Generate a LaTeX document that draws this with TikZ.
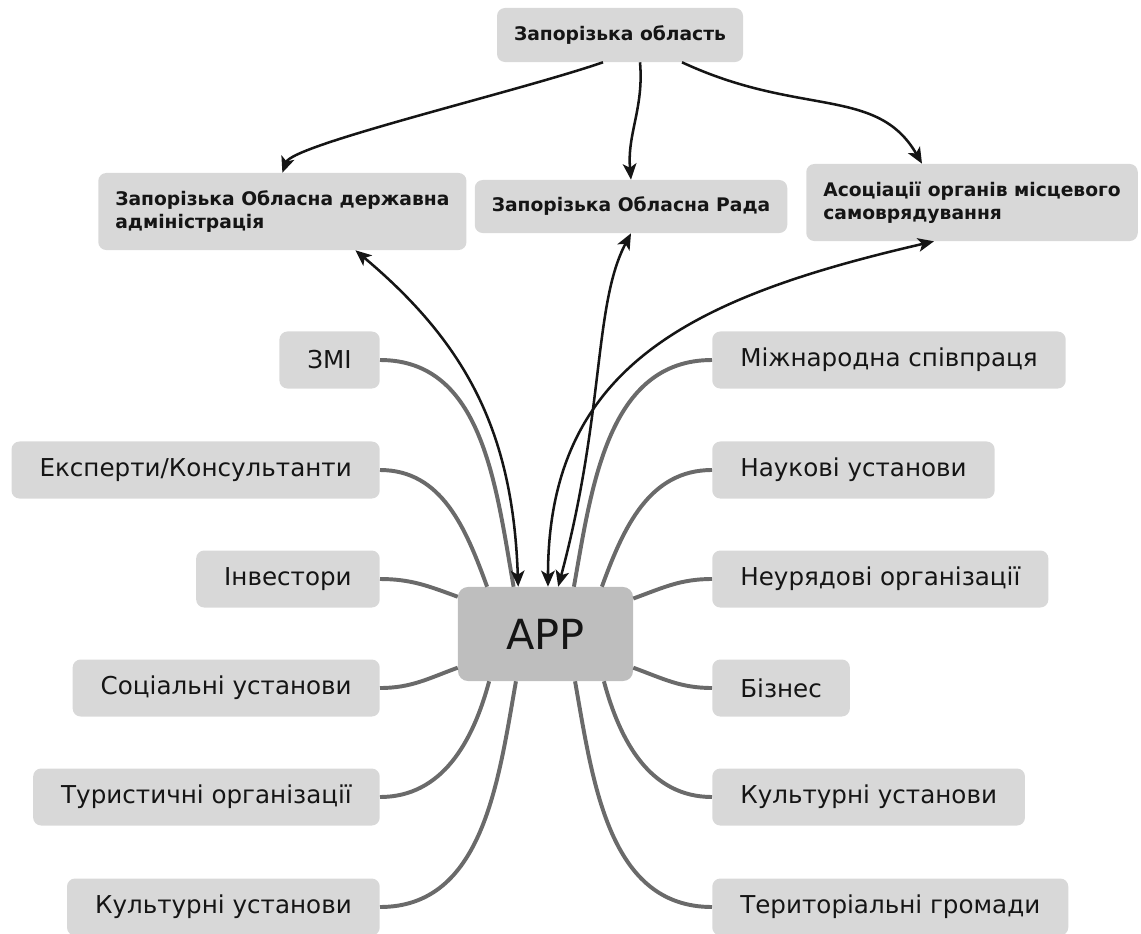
\documentclass[tikz,border=0pt]{standalone}
\usepackage{fontspec}
\setmainfont{DejaVu Sans}
\usetikzlibrary{arrows.meta,calc}

\definecolor{boxgray}{HTML}{D8D8D8}
\definecolor{appgray}{HTML}{BEBEBE}
\definecolor{linkgray}{HTML}{6A6A6A}
\definecolor{ink}{HTML}{151515}

\tikzset{
    leaf/.style={fill=boxgray, rounded corners=0.2cm, inner xsep=0.7cm, minimum height=1.425cm,
        text=ink, font=\fontsize{17.5}{21}\selectfont},
    head/.style={fill=boxgray, rounded corners=0.2cm, inner xsep=0.425cm, align=left,
        text=ink, font=\fontsize{13.3}{16.6}\selectfont\bfseries},
    link/.style={draw=linkgray, line width=2.8pt},
    rel/.style={draw=ink, line width=1.8pt, ->},
    relboth/.style={draw=ink, line width=1.8pt, <->}
}

\begin{document}
\begin{tikzpicture}[x=0.025cm, y=0.025cm, >={Stealth[length=4mm, width=3.4mm, inset=1mm]}]
        \useasboundingbox (0,0) rectangle (1141,-933);
        % top row
        \node[head, minimum height=1.35cm] (obl) at (620,-35) {Запорізька область};
        \node[head, anchor=west, minimum height=1.925cm] (oda) at (98,-211.5) {Запорізька Обласна державна\\адміністрація};
        \node[head, minimum height=1.325cm] (rada) at (631,-206.5) {Запорізька Обласна Рада};
        \node[head, anchor=west, minimum height=1.925cm] (asoc) at (806,-202.5) {Асоціації органів місцевого\\самоврядування};
        % centre
        \node[fill=appgray, rounded corners=0.25cm, minimum width=4.375cm, minimum height=2.35cm,
            text=ink, font=\fontsize{29.5}{34}\selectfont] (app) at (545.5,-634) {АРР};
        % left column
        \node[leaf, anchor=east] (zmi) at (380,-360) {ЗМІ};
        \node[leaf, anchor=east] (exp) at (380,-470) {Експерти/Консультанти};
        \node[leaf, anchor=east] (inv) at (380,-579) {Інвестори};
        \node[leaf, anchor=east] (soc) at (380,-688) {Соціальні установи};
        \node[leaf, anchor=east] (tur) at (380,-797) {Туристичні організації};
        \node[leaf, anchor=east] (kulL) at (380,-907) {Культурні установи};
        % right column
        \node[leaf, anchor=west] (mizh) at (712,-360) {Міжнародна співпраця};
        \node[leaf, anchor=west] (nauk) at (712,-470) {Наукові установи};
        \node[leaf, anchor=west] (ngo) at (712,-579) {Неурядові організації};
        \node[leaf, anchor=west] (biz) at (712,-688) {Бізнес};
        \node[leaf, anchor=west] (kulR) at (712,-797) {Культурні установи};
        \node[leaf, anchor=west] (ter) at (712,-907) {Територіальні громади};
        % grey links to the centre
        \draw[link] (zmi.east) to[out=0, in=100] (app.124);
        \draw[link] (exp.east) to[out=0, in=110] (app.141);
        \draw[link] (inv.east) to[out=0, in=160] (app.157);
        \draw[link] (soc.east) to[out=0, in=200] (app.201);
        \draw[link] (tur.east) to[out=0, in=255] (app.220);
        \draw[link] (kulL.east) to[out=0, in=260] (app.238);
        \draw[link] (mizh.west) to[out=180, in=80] (app.59);
        \draw[link] (nauk.west) to[out=180, in=70] (app.40);
        \draw[link] (ngo.west) to[out=180, in=20] (app.22);
        \draw[link] (biz.west) to[out=180, in=-20] (app.-21);
        \draw[link] (kulR.west) to[out=180, in=-75] (app.-39);
        \draw[link] (ter.west) to[out=180, in=-80] (app.-58);
        % black arrows
        \draw[rel] ($(obl.south)+(-17,0)$) .. controls +(199:90) and +(70:30) .. (oda.north);
        \draw[rel] ($(obl.south)+(20,0)$) to[out=-85, in=95] (rada.north);
        \draw[rel] ($(obl.south)+(62,0)$) .. controls +(-25:130) and +(120:90) .. ($(asoc.north)+(-50,0)$);
        \draw[relboth] ($(oda.south)+(73,0)$) .. controls +(-40:150) and +(92:150) .. (app.120);
        \draw[relboth] (rada.south) .. controls +(-118:80) and +(75:180) .. (app.75);
        \draw[relboth] ($(asoc.south)+(-38,0)$) .. controls +(193:250) and +(90:220) .. (app.87);
    \end{tikzpicture}
\end{document}
